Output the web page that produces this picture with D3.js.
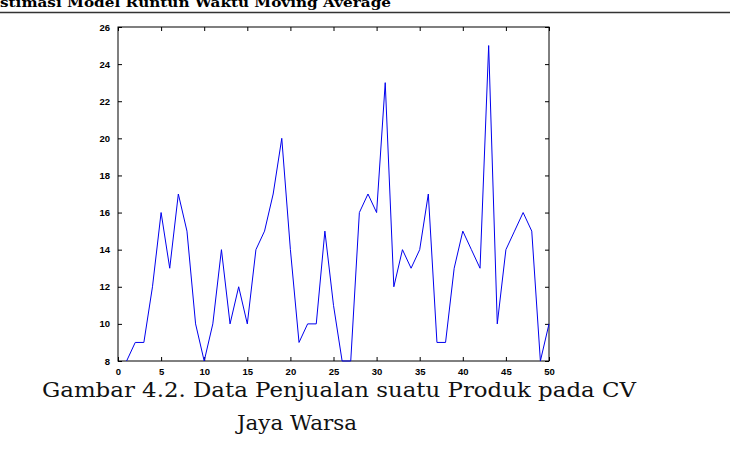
<!DOCTYPE html>
<html>
<head>
<meta charset="utf-8">
<script src="https://cdn.jsdelivr.net/npm/d3@7"></script>
<style>
  body { margin: 0; background: #fff; }
  svg { display: block; }
</style>
</head>
<body>
<script>
// penjualan per periode
var periods = d3.range(1, 51);
var sales = [8, 9, 9, 12, 16, 13, 17, 15, 10, 8,
  10, 14, 10, 12, 10, 14, 15, 17, 20, 14,
  9, 10, 10, 15, 11, 8, 8, 16, 17, 16,
  23, 12, 14, 13, 14, 17, 9, 9, 13, 15,
  14, 13, 25, 10, 14, 15, 16, 15, 8, 10];
var xTicks = [0, 5, 10, 15, 20, 25, 30, 35, 40, 45, 50];
var yTicks = [8, 10, 12, 14, 16, 18, 20, 22, 24, 26];
var headerText = "stimasi Model Runtun Waktu Moving Average";
var captionLines = ["Gambar 4.2. Data Penjualan suatu Produk pada CV", "Jaya Warsa"];

var W = 730, H = 454;
var plotL = 118, plotR = 549, plotT = 27, plotB = 361;

var svg = d3.select("body").append("svg")
  .attr("width", W)
  .attr("height", H);

// header halaman
svg.append("text")
  .attr("x", 0)
  .attr("y", 7)
  .attr("font-family", "DejaVu Serif")
  .attr("font-weight", "bold")
  .attr("font-size", 13)
  .attr("textLength", 391)
  .attr("lengthAdjust", "spacingAndGlyphs")
  .text(headerText);

svg.append("line")
  .attr("x1", 0).attr("x2", W)
  .attr("y1", 12.5).attr("y2", 12.5)
  .attr("stroke", "#333")
  .attr("stroke-width", 1.3);

var x = d3.scaleLinear().domain([0, 50]).range([plotL, plotR]);
var y = d3.scaleLinear().domain([8, 26]).range([plotB, plotT]);

var g = svg.append("g");

// kotak plot
g.append("rect")
  .attr("x", plotL).attr("y", plotT)
  .attr("width", plotR - plotL).attr("height", plotB - plotT)
  .attr("fill", "none")
  .attr("stroke", "#000")
  .attr("stroke-width", 1);

var tickLen = 4;

var xAxisB = g.append("g")
  .attr("transform", `translate(0,${plotB})`)
  .call(d3.axisBottom(x).tickValues(xTicks).tickSizeInner(-tickLen).tickSizeOuter(0).tickPadding(tickLen + 3));
var xAxisT = g.append("g")
  .attr("transform", `translate(0,${plotT})`)
  .call(d3.axisTop(x).tickValues(xTicks).tickSizeInner(-tickLen).tickSizeOuter(0).tickFormat(""));
var yAxisL = g.append("g")
  .attr("transform", `translate(${plotL},0)`)
  .call(d3.axisLeft(y).tickValues(yTicks).tickSizeInner(-tickLen).tickSizeOuter(0).tickPadding(tickLen + 4));
var yAxisR = g.append("g")
  .attr("transform", `translate(${plotR},0)`)
  .call(d3.axisRight(y).tickValues(yTicks).tickSizeInner(-tickLen).tickSizeOuter(0).tickFormat(""));

[xAxisB, xAxisT, yAxisL, yAxisR].forEach(function(a) {
  a.select(".domain").remove();
  a.selectAll("line").attr("stroke", "#000");
  a.selectAll("text")
    .attr("font-family", "Liberation Sans")
    .attr("font-weight", "bold")
    .attr("font-size", 9.5)
    .attr("fill", "#000");
});

var line = d3.line()
  .x(function(d, i) { return x(periods[i]); })
  .y(function(d) { return y(d); });

g.append("path")
  .attr("d", line(sales))
  .attr("fill", "none")
  .attr("stroke", "#0000ee")
  .attr("stroke-width", 1);

// keterangan gambar
svg.append("text")
  .attr("x", 42)
  .attr("y", 397)
  .attr("font-family", "DejaVu Serif")
  .attr("font-size", 20)
  .attr("textLength", 594)
  .attr("lengthAdjust", "spacingAndGlyphs")
  .attr("fill", "#111")
  .text(captionLines[0]);

svg.append("text")
  .attr("x", 237)
  .attr("y", 430)
  .attr("font-family", "DejaVu Serif")
  .attr("font-size", 20)
  .attr("textLength", 120)
  .attr("lengthAdjust", "spacingAndGlyphs")
  .attr("fill", "#111")
  .text(captionLines[1]);
</script>
</body>
</html>
